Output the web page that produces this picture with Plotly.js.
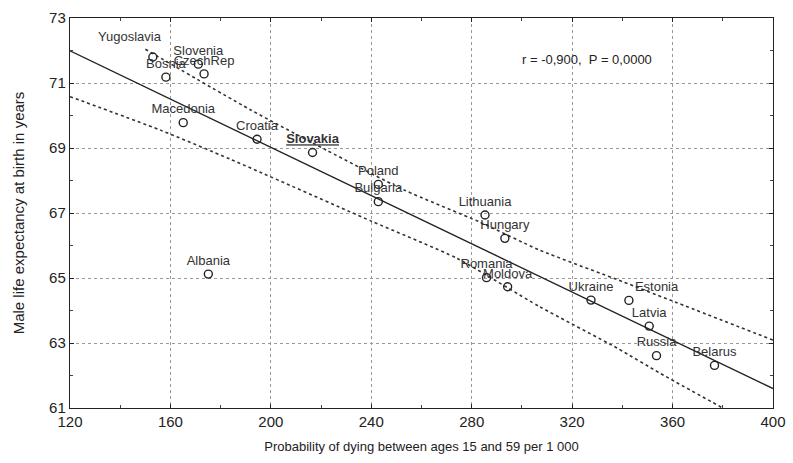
<!DOCTYPE html>
<html>
<head>
<meta charset="utf-8">
<script src="https://cdn.plot.ly/plotly-3.0.1.min.js"></script>
<style>html,body{margin:0;padding:0;background:#fff;}#chart{width:793px;height:463px;}</style>
</head>
<body>
<div id="chart"></div>
<script>
// Data
const countries = ["Yugoslavia","Slovenia","CzechRep","Bosnia","Macedonia","Croatia","Slovakia","Poland","Bulgaria","Lithuania","Hungary","Romania","Moldova","Ukraine","Estonia","Latvia","Russia","Belarus","Albania"];
const probDying = [153.0,171.1,173.4,158.2,165.1,194.5,216.6,242.8,242.8,285.3,293.2,285.9,294.3,327.5,342.6,350.7,353.6,376.7,175.1];
const lifeExp   = [71.8,71.58,71.28,71.18,69.78,69.27,68.86,67.88,67.35,66.94,66.22,65.01,64.73,64.32,64.31,63.52,62.61,62.31,65.12];

const fitX = [120, 400];
const fitY = [71.99, 61.6];
const upperX = [150,192,222,253,283,307,340,359,400];
const upperY = [72.04,70.17,68.94,67.71,66.73,65.86,64.89,64.32,63.09];
const lowerX = [120,156,184,240,274,307,338,355,380];
const lowerY = [70.58,69.55,68.65,66.75,65.61,64.12,62.84,62.07,61.0];

const statText = "r = -0,900,  P = 0,0000";
const xTitle = "Probability of dying between ages 15 and 59 per 1 000";
const yTitle = "Male life expectancy at birth in years";

// Label placement (layout only, not data)
const offsetLabels = {"Yugoslavia": {xshift: -23, yshift: 21}};
const labelText = countries.map(c => offsetLabels[c] ? "" : (c === "Slovakia" ? "<b><u>" + c + "</u></b>" : c));
const labelPos = countries.map(c => c === "Estonia" ? "top right" : "top center");

const font = "Arial, 'Liberation Sans', sans-serif";

const traces = [
  {x: upperX, y: upperY, mode: "lines", line: {color: "#333", width: 1.6, dash: "dot", shape: "spline", smoothing: 0.6}, hoverinfo: "skip"},
  {x: lowerX, y: lowerY, mode: "lines", line: {color: "#333", width: 1.6, dash: "dot", shape: "spline", smoothing: 0.6}, hoverinfo: "skip"},
  {x: fitX, y: fitY, mode: "lines", line: {color: "#222", width: 1.4}, hoverinfo: "skip"},
  {x: probDying, y: lifeExp, mode: "markers+text", text: labelText, textposition: labelPos,
   textfont: {family: font, size: 13, color: "#333"},
   marker: {symbol: "circle-open", size: 8, color: "#222", line: {width: 1.4}}, cliponaxis: false}
];

const annotations = [
  {x: 326, y: 71.71, xref: "x", yref: "y", text: statText, showarrow: false,
   font: {family: font, size: 13, color: "#222"}}
];
countries.forEach((c, i) => {
  if (offsetLabels[c]) {
    annotations.push({x: probDying[i], y: lifeExp[i], xref: "x", yref: "y", text: c, showarrow: false,
      xshift: offsetLabels[c].xshift, yshift: offsetLabels[c].yshift,
      font: {family: font, size: 13, color: "#333"}});
  }
});

const layout = {
  width: 793, height: 463,
  margin: {l: 70, r: 20, t: 18, b: 55},
  paper_bgcolor: "#fff", plot_bgcolor: "#fff",
  showlegend: false,
  font: {family: font, color: "#222"},
  xaxis: {
    range: [120, 400], tickvals: [120,160,200,240,280,320,360,400],
    showgrid: true, gridcolor: "#999", griddash: "dot", gridwidth: 1,
    zeroline: false, showline: true, linecolor: "#222", linewidth: 1.2, mirror: "allticks",
    ticks: "inside", ticklen: 4, tickcolor: "#222",
    minor: {dtick: 20, ticks: "inside", ticklen: 3, tickcolor: "#444", showgrid: false},
    tickfont: {size: 15, color: "#222"},
    title: {text: xTitle, font: {size: 13, color: "#222"}, standoff: 12}
  },
  yaxis: {
    range: [61, 73], tick0: 61, dtick: 2,
    showgrid: true, gridcolor: "#999", griddash: "dot", gridwidth: 1,
    zeroline: false, showline: true, linecolor: "#222", linewidth: 1.2, mirror: "allticks",
    ticks: "inside", ticklen: 4, tickcolor: "#222",
    minor: {dtick: 1, ticks: "inside", ticklen: 3, tickcolor: "#444", showgrid: false},
    tickfont: {size: 15, color: "#222"},
    title: {text: yTitle, font: {size: 15, color: "#222"}, standoff: 20}
  },
  annotations: annotations
};

Plotly.newPlot("chart", traces, layout, {staticPlot: true, displayModeBar: false});
</script>
</body>
</html>
